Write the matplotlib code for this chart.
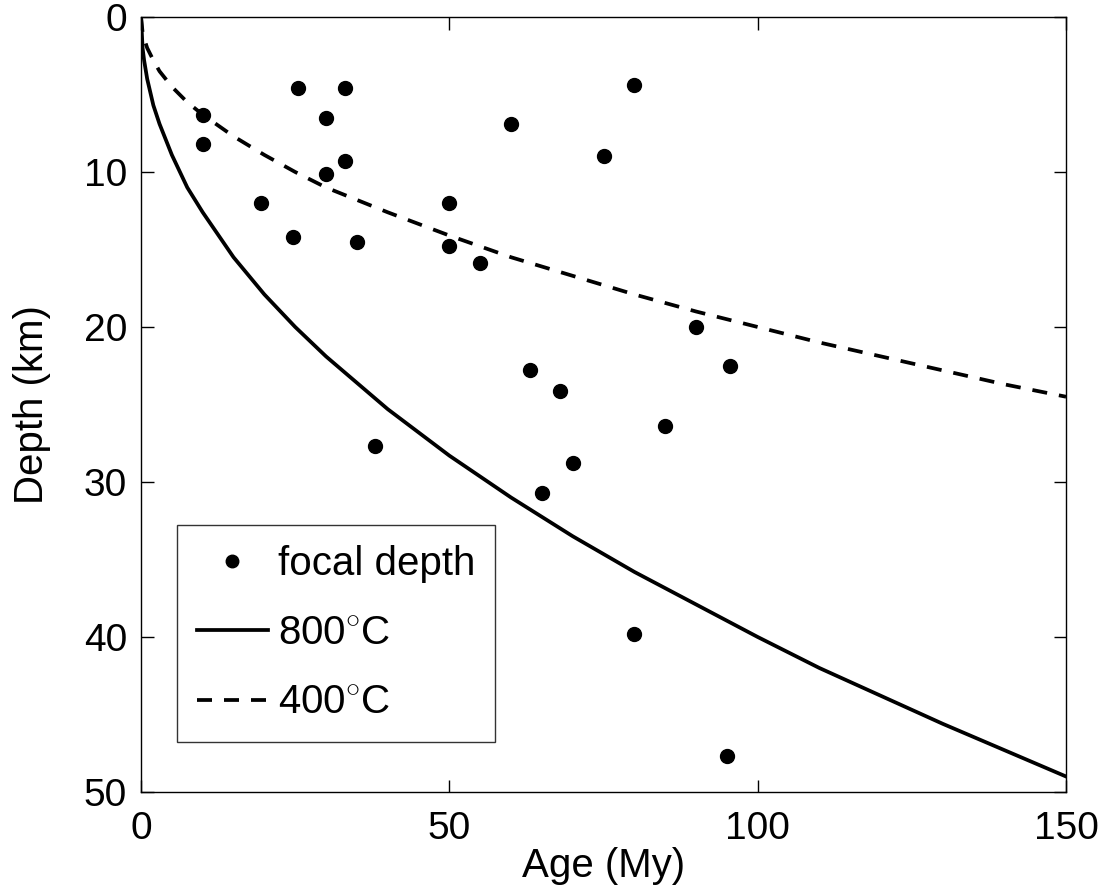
# Focal depth vs plate age, with 400 and 800 C isotherms
import matplotlib
matplotlib.use("Agg")
import matplotlib.pyplot as plt

plt.rcParams['font.family'] = ['Liberation Sans', 'DejaVu Sans']
plt.rcParams['mathtext.fontset'] = 'custom'
plt.rcParams['mathtext.rm'] = 'Liberation Sans'

# Earthquake focal depths (age in My, depth in km)
eq_age = [10, 10, 25.5, 33, 30, 33, 30, 19.5, 24.7, 35, 50, 50, 55,
          80, 60, 75, 90, 63, 68, 95.5, 85, 70, 65, 38, 80, 95]
eq_depth = [6.3, 8.2, 4.6, 4.6, 6.5, 9.3, 10.1, 12.0, 14.2, 14.5, 12.0, 14.8, 15.9,
            4.4, 6.9, 9.0, 20.0, 22.8, 24.1, 22.5, 26.4, 28.8, 30.7, 27.7, 39.8, 47.7]

# Isotherm depths
iso_age = [0, 0.25, 0.5, 1, 2, 3, 5, 7.5, 10, 15, 20, 25, 30, 40, 50,
           60, 70, 80, 90, 100, 110, 120, 130, 140, 150]
iso_800 = [0, 2.0, 2.8, 4.0, 5.7, 6.9, 8.9, 11.0, 12.6, 15.5, 17.9, 20.0, 21.9, 25.3, 28.3,
           31.0, 33.5, 35.8, 37.9, 40.0, 42.0, 43.8, 45.6, 47.3, 49.0]
iso_400 = [0, 1.0, 1.4, 2.0, 2.8, 3.5, 4.5, 5.5, 6.3, 7.7, 8.9, 10.0, 11.0, 12.6, 14.1,
           15.5, 16.7, 17.9, 19.0, 20.0, 21.0, 21.9, 22.8, 23.7, 24.5]

fig = plt.figure(figsize=(11.07, 8.94), dpi=100)
ax = fig.add_axes([0.1274, 0.1141, 0.8356, 0.8669])

ax.plot(eq_age, eq_depth, 'o', color='black', markersize=10, label='focal depth')
ax.plot(iso_age, iso_800, '-', color='black', linewidth=2.7, label='800$^{\\circ}$C')
ax.plot(iso_age, iso_400, '--', color='black', linewidth=2.7, dashes=(4, 3.2), label='400$^{\\circ}$C')

ax.set_xlim(0, 150)
ax.set_ylim(50, 0)
ax.set_xticks([0, 50, 100, 150])
ax.set_yticks([0, 10, 20, 30, 40, 50])
ax.tick_params(direction='in', length=9, width=1, top=True, right=True, labelsize=28)
ax.tick_params(axis='x', pad=14)
ax.tick_params(axis='y', pad=10)
for s in ax.spines.values():
    s.set_linewidth(1)

ax.set_xlabel('Age (My)', fontsize=29, labelpad=0)
ax.set_ylabel('Depth (km)', fontsize=29)
ax.yaxis.set_label_coords(-0.097, 0.5)

leg = ax.legend(loc='lower left', bbox_to_anchor=(0.039, 0.0645), fontsize=29,
                frameon=True, fancybox=False, edgecolor='black', handlelength=1.75,
                handletextpad=0.25, labelspacing=0.78, borderpad=0.5, markerscale=0.9,
                borderaxespad=0)
leg.get_frame().set_linewidth(1)

plt.savefig('out.png', dpi=100)
